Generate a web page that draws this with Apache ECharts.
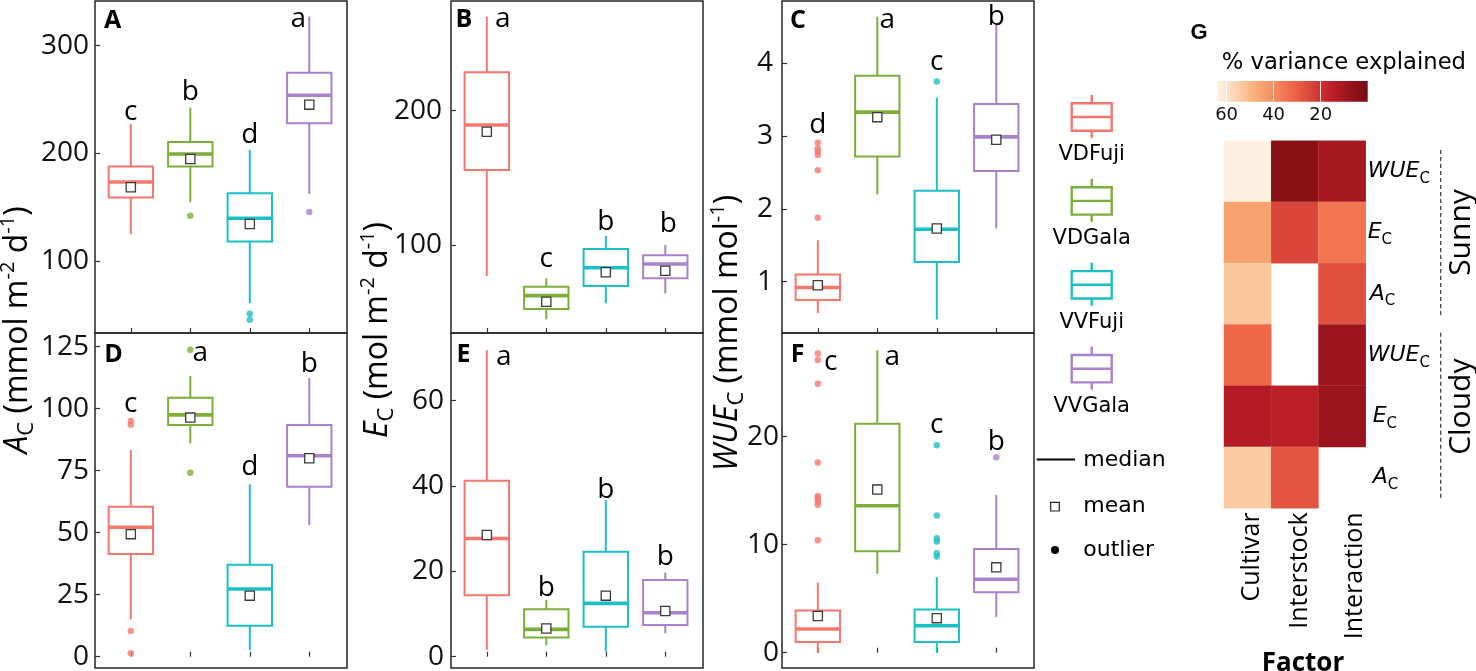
<!DOCTYPE html>
<html>
<head>
<meta charset="utf-8">
<script src="https://cdn.jsdelivr.net/npm/echarts/dist/echarts.min.js"></script>
<style>
html,body{margin:0;padding:0;background:#fff;}
#chart{width:1476px;height:671px;}
</style>
</head>
<body>
<div id="chart"></div>
<script>
// ---------------- DATA ----------------
const groups = ['VDFuji', 'VDGala', 'VVFuji', 'VVGala'];

// box stats: [min, Q1, median, Q3, max]
// Panel A: sunny A_C
const sunnyAcBox = [[124.9,158.9,173.4,187.7,227.3],[154.9,187.7,199.4,210.6,242.4],[60.8,118.0,139.7,163.0,203.2],[162.3,227.9,253.9,274.9,327.0]];
const sunnyAcMean = [168.5,194.8,134.4,245.2];
const sunnyAcOutliers = [[],[141.9],[50.9,45.3],[145.6]];
const sunnyAcLetters = ['c','b','d','a'];
const sunnyAcLetterAt = [231.0,249.6,209.9,317.6];
const sunnyAcTicks = [100,200,300];

// Panel D: cloudy A_C
const cloudyAcBox = [[15.1,41.4,52.2,60.5,83.3],[86.0,93.4,97.5,104.4,113.2],[2.7,12.5,27.3,37.1,69.5],[53.1,68.5,81.0,93.4,112.3]];
const cloudyAcMean = [49.4,96.4,24.6,80.0];
const cloudyAcOutliers = [[95.0,93.5,10.4,1.4],[123.7,74.2],[],[]];
const cloudyAcLetters = ['c','a','d','b'];
const cloudyAcLetterAt = [98.8,119.0,73.3,114.9];
const cloudyAcTicks = [0,25,50,75,100,125];

// Panel B: sunny E_C
const sunnyEcBox = [[76.9,155.8,189.4,228.6,270.0],[44.7,52.3,62.3,69.0,75.2],[56.6,69.5,83.1,97.0,106.7],[64.0,75.2,85.9,92.3,100.0]];
const sunnyEcMean = [184.4,57.8,79.7,80.9];
const sunnyEcOutliers = [[],[],[],[]];
const sunnyEcLetters = ['a','c','b','b'];
const sunnyEcLetterAt = [262.5,83.8,111.2,109.9];
const sunnyEcTicks = [100,200];

// Panel E: cloudy E_C
const cloudyEcBox = [[1.6,14.4,27.7,41.2,71.8],[2.7,4.5,6.4,11.1,13.3],[1.2,7.0,12.5,24.6,36.7],[5.5,7.4,10.3,18.0,19.7]];
const cloudyEcMean = [28.5,6.6,14.3,10.7];
const cloudyEcOutliers = [[],[],[],[]];
const cloudyEcLetters = ['a','b','b','b'];
const cloudyEcLetterAt = [68.4,14.1,37.1,21.5];
const cloudyEcTicks = [0,20,40,60];

// Panel C: sunny WUE_C
const sunnyWueBox = [[0.57,0.75,0.92,1.10,1.57],[2.20,2.72,3.33,3.83,4.64],[0.48,1.27,1.72,2.25,3.53],[1.73,2.52,2.99,3.44,4.53]];
const sunnyWueMean = [0.95,3.26,1.73,2.95];
const sunnyWueOutliers = [[2.91,2.83,2.79,2.74,2.53,1.88],[],[3.75],[]];
const sunnyWueLetters = ['d','a','c','b'];
const sunnyWueLetterAt = [3.04,4.48,3.91,4.53];
const sunnyWueTicks = [1,2,3,4];

// Panel F: cloudy WUE_C
const cloudyWueBox = [[0.0,1.0,2.2,3.9,6.5],[7.3,9.4,13.6,21.2,28.0],[0.0,1.0,2.5,4.0,7.0],[3.3,5.6,6.8,9.6,14.6]];
const cloudyWueMean = [3.4,15.1,3.2,7.9];
const cloudyWueOutliers = [[27.7,27.1,24.9,17.6,14.5,14.3,14.0,13.7,10.4],[],[19.2,12.7,10.6,10.3,9.2,8.9],[18.1]];
const cloudyWueLetters = ['c','a','c','b'];
const cloudyWueLetterAt = [26.2,26.6,20.3,18.8];
const cloudyWueTicks = [0,10,20];

// Panel G: % variance explained
const factors = ['Cultivar', 'Interstock', 'Interaction'];
const heatRows = ['WUE|Sunny', 'E|Sunny', 'A|Sunny', 'WUE|Cloudy', 'E|Cloudy', 'A|Cloudy'];
const varSunnyWue = [63, 4.3, 10.2];
const varSunnyEc = [45, 24.8, 35];
const varSunnyAc = [53, null, 26.5];
const varCloudyWue = [32, null, 8.2];
const varCloudyEc = [13.2, 15, 7.6];
const varCloudyAc = [54, 27.9, null];
const colorbarTicks = [20, 40, 60];

// ---------------- STYLE / LAYOUT ----------------
const COLORS = ['#F6776E', '#7BAF3A', '#1DBFC6', '#A982CB'];
const PALETTE = ['#760A12', '#C0202A', '#EF6848', '#F8B27A', '#FFF6EA'];
const VMAX = 64.2;
const FONT = 'Open Sans';
const FONT2 = 'DejaVu Sans';
const BOX_HALF = 0.373;
const colLabelShift = [8, 10, 26];       // rotated label nudge (local padding)
const rowLabelShift = [0, 0, 2, 0, 5, 5]; // row label left padding

const panels = [
  {tag:'A', box:sunnyAcBox, mean:sunnyAcMean, out:sunnyAcOutliers, letters:sunnyAcLetters, letterAt:sunnyAcLetterAt, ticks:sunnyAcTicks, dx:[0,0,0,-11], yMin:33.1, yMax:341.5, margin:6, rect:{left:95, top:1, width:252, height:332}},
  {tag:'D', box:cloudyAcBox, mean:cloudyAcMean, out:cloudyAcOutliers, letters:cloudyAcLetters, letterAt:cloudyAcLetterAt, ticks:cloudyAcTicks, dx:[0,10,0,0], yMin:-4.56, yMax:130.5, margin:6, rect:{left:95, top:333, width:252, height:335}},
  {tag:'B', box:sunnyEcBox, mean:sunnyEcMean, out:sunnyEcOutliers, letters:sunnyEcLetters, letterAt:sunnyEcLetterAt, ticks:sunnyEcTicks, dx:[16,0,0,3], yMin:34.5, yMax:281.7, margin:9, rect:{left:451, top:1, width:252, height:332}},
  {tag:'E', box:cloudyEcBox, mean:cloudyEcMean, out:cloudyEcOutliers, letters:cloudyEcLetters, letterAt:cloudyEcLetterAt, ticks:cloudyEcTicks, dx:[17,0,0,0], yMin:-2.65, yMax:75.85, margin:7, rect:{left:451, top:333, width:252, height:335}},
  {tag:'C', box:sunnyWueBox, mean:sunnyWueMean, out:sunnyWueOutliers, letters:sunnyWueLetters, letterAt:sunnyWueLetterAt, ticks:sunnyWueTicks, dx:[0,10,0,0], yMin:0.295, yMax:4.856, margin:9, rect:{left:782, top:1, width:252, height:332}},
  {tag:'F', box:cloudyWueBox, mean:cloudyWueMean, out:cloudyWueOutliers, letters:cloudyWueLetters, letterAt:cloudyWueLetterAt, ticks:cloudyWueTicks, dx:[13,15,0,0], yMin:-1.417, yMax:29.6, margin:3, rect:{left:782, top:333, width:252, height:335}}
];

const grids = [], xAxes = [], yAxes = [], series = [];

panels.forEach((p, pi) => {
  grids.push(Object.assign({show:true, borderColor:'#262626', borderWidth:1.5, backgroundColor:'transparent'}, p.rect));
  xAxes.push({
    gridIndex: pi, type:'value', min:0.398, max:4.634,
    axisLine:{show:false}, splitLine:{show:false},
    axisLabel:{show:false},
    axisTick:{show:true, inside:true, length:5, customValues:[1,2,3,4], lineStyle:{color:'#333', width:1.2}}
  });
  yAxes.push({
    gridIndex: pi, type:'value', min:p.yMin, max:p.yMax,
    axisLine:{show:false}, splitLine:{show:false},
    axisLabel:{show:true, customValues:p.ticks, fontFamily:FONT, fontSize:28, color:'#111', margin:p.margin},
    axisTick:{show:true, inside:true, length:5, customValues:p.ticks, lineStyle:{color:'#333', width:1.2}}
  });
  // boxes
  series.push({
    type:'custom', xAxisIndex:pi, yAxisIndex:pi, z:2, silent:true,
    encode:{x:0, y:[1,2,3,4,5,6]},
    data: p.box.map((b, i) => [i + 1, b[0], b[1], b[2], b[3], b[4], p.mean[i], i]),
    renderItem: function (params, api) {
      const x = api.value(0);
      const gi = api.value(7);
      const c = COLORS[gi];
      const pt = k => api.coord([x, api.value(k)]);
      const pMin = pt(1), pQ1 = pt(2), pMed = pt(3), pQ3 = pt(4), pMax = pt(5), pMean = pt(6);
      const half = api.size([BOX_HALF, 0])[0];
      const cx = pMed[0];
      return {type:'group', children:[
        {type:'line', shape:{x1:cx, y1:pMax[1], x2:cx, y2:pQ3[1]}, style:{stroke:c, lineWidth:2}},
        {type:'line', shape:{x1:cx, y1:pQ1[1], x2:cx, y2:pMin[1]}, style:{stroke:c, lineWidth:2}},
        {type:'rect', shape:{x:cx - half, y:pQ3[1], width:2 * half, height:pQ1[1] - pQ3[1]}, style:{fill:'#fff', stroke:c, lineWidth:2}},
        {type:'line', shape:{x1:cx - half, y1:pMed[1], x2:cx + half, y2:pMed[1]}, style:{stroke:c, lineWidth:3.6}},
        {type:'rect', shape:{x:pMean[0] - 4.6, y:pMean[1] - 4.6, width:9.2, height:9.2}, style:{fill:'#fff', stroke:'#3a3a3a', lineWidth:1.3}}
      ]};
    }
  });
  // outliers
  const outData = [];
  p.out.forEach((arr, i) => arr.forEach(v => outData.push({value:[i + 1, v], itemStyle:{color:COLORS[i]}})));
  series.push({
    type:'scatter', xAxisIndex:pi, yAxisIndex:pi, z:3, silent:true,
    symbol:'circle', symbolSize:6.5, data:outData
  });
  // significance letters
  series.push({
    type:'custom', xAxisIndex:pi, yAxisIndex:pi, z:4, silent:true,
    encode:{x:0, y:1},
    data: p.letters.map((l, i) => [i + 1, p.letterAt[i]]),
    renderItem: function (params, api) {
      const i = params.dataIndex;
      const pt = api.coord([api.value(0), api.value(1)]);
      return {type:'text', x:pt[0] + p.dx[i], y:pt[1] - 8,
        style:{text:p.letters[i], fontFamily:FONT, fontSize:28, fill:'#000', align:'center', verticalAlign:'middle'}};
    }
  });
});

// Heatmap grid (index 6)
grids.push({left:1224, top:140.7, width:141.7, height:367.6, show:false});
const colRich = {};
colLabelShift.forEach((s, k) => { colRich['c' + k] = {fontFamily:FONT, fontSize:25, color:'#000', padding:[s, 0, 0, 0]}; });
xAxes.push({
  gridIndex:6, type:'category', data:factors, position:'bottom',
  axisLine:{show:false}, axisTick:{show:false}, splitLine:{show:false},
  axisLabel:{rotate:90, margin:4, fontFamily:FONT, fontSize:25, color:'#000', interval:0,
    formatter:(v, idx) => '{c' + idx + '|' + v + '}', rich:colRich}
});
const rowRich = {s:{fontFamily:FONT2, fontSize:15, lineHeight:20, verticalAlign:'bottom', color:'#000'}};
rowLabelShift.forEach((s, k) => { rowRich['i' + k] = {fontFamily:FONT2, fontStyle:'italic', fontSize:22, lineHeight:30, color:'#000', padding:[0, 0, 0, s]}; });
yAxes.push({
  gridIndex:6, type:'category', data:heatRows, inverse:true, position:'right',
  axisLine:{show:false}, axisTick:{show:false}, splitLine:{show:false},
  axisLabel:{margin:2, interval:0,
    formatter: (v, idx) => '{i' + idx + '|' + v.split('|')[0] + '}{s|C}',
    rich:rowRich}
});
const heatMatrix = [varSunnyWue, varSunnyEc, varSunnyAc, varCloudyWue, varCloudyEc, varCloudyAc];
const heatData = [];
heatMatrix.forEach((row, r) => row.forEach((v, c) => { if (v !== null) heatData.push([c, r, v]); }));
series.push({
  type:'heatmap', xAxisIndex:6, yAxisIndex:6, data:heatData, silent:true,
  itemStyle:{borderColor:'rgba(255,255,255,0.15)', borderWidth:0.6}
});
const heatSeriesIndex = series.length - 1;

// Colorbar grid (index 7)
grids.push({left:1216.7, top:81, width:151, height:20.7, show:false});
xAxes.push({
  gridIndex:7, type:'value', min:0, max:VMAX, inverse:true, z:5,
  axisLine:{show:false}, splitLine:{show:false},
  axisLabel:{customValues:colorbarTicks, margin:5, fontFamily:FONT2, fontSize:18, color:'#111'},
  axisTick:{show:true, inside:true, length:20.7, customValues:colorbarTicks, lineStyle:{color:'rgba(255,255,255,0.85)', width:1}}
});
yAxes.push({gridIndex:7, type:'value', min:0, max:1, show:false});
series.push({
  type:'custom', xAxisIndex:7, yAxisIndex:7, z:1, silent:true,
  data:[[0, 0]],
  renderItem: function (params, api) {
    const cs = params.coordSys;
    const stops = PALETTE.map((col, k) => {
      const v = k * VMAX / (PALETTE.length - 1);
      const px = api.coord([v, 0])[0];
      return {offset:(px - cs.x) / cs.width, color:col};
    }).sort((a, b) => a.offset - b.offset);
    return {type:'rect', shape:{x:cs.x, y:cs.y, width:cs.width, height:cs.height},
      style:{fill:new echarts.graphic.LinearGradient(0, 0, 1, 0, stops)}};
  }
});

// ---------------- GRAPHIC (titles, legend, annotations) ----------------
const graphic = [];
function axisTitle(x, y, main, unit) {
  graphic.push({
    type:'text', x:x, y:y, rotation:Math.PI / 2, silent:true,
    style:{
      text: main + unit, align:'center', verticalAlign:'middle',
      rich:{
        i:{fontFamily:FONT, fontStyle:'italic', fontSize:32, lineHeight:40, fill:'#000'},
        s:{fontFamily:FONT, fontSize:22, lineHeight:24, verticalAlign:'bottom', fill:'#000'},
        n:{fontFamily:FONT, fontSize:32, lineHeight:40, fill:'#000'},
        p:{fontFamily:FONT, fontSize:20, lineHeight:22, verticalAlign:'top', fill:'#000'}
      }
    }
  });
}
axisTitle(18, 330, '{i|A}{s|C}', '{n| (mmol m}{p|-2}{n| d}{p|-1}{n|)}');
axisTitle(378, 330, '{i|E}{s|C}', '{n| (mol m}{p|-2}{n| d}{p|-1}{n|)}');
axisTitle(728, 333, '{i|WUE}{s|C}', '{n| (mmol mol}{p|-1}{n|)}');

// panel tags
const tagPos = {A:[112.5,21], D:[113.5,355], B:[464,20], E:[463.5,355], C:[798,21], F:[797.5,355]};
panels.forEach(p => {
  graphic.push({type:'text', x:tagPos[p.tag][0], y:tagPos[p.tag][1], silent:true,
    style:{text:p.tag, fontFamily:FONT, fontWeight:'bold', fontSize:25, fill:'#000', align:'center', verticalAlign:'middle'}});
});

// legend
groups.forEach((g, i) => {
  const top = 95 + i * 83.9;
  const cx = 1091.7;
  const c = COLORS[i];
  graphic.push({type:'group', silent:true, children:[
    {type:'line', shape:{x1:cx, y1:top, x2:cx, y2:top + 43}, style:{stroke:c, lineWidth:2.4}},
    {type:'rect', shape:{x:cx - 20, y:top + 8.3, width:40, height:27.4}, style:{fill:'#fff', stroke:c, lineWidth:2.4}},
    {type:'line', shape:{x1:cx - 20, y1:top + 22, x2:cx + 20, y2:top + 22}, style:{stroke:c, lineWidth:2.4}},
    {type:'text', x:cx, y:top + 60, style:{text:g, fontFamily:FONT2, fontSize:21, fill:'#000', align:'center', verticalAlign:'middle'}}
  ]});
});
graphic.push({type:'line', silent:true, shape:{x1:1036.7, y1:459.5, x2:1075, y2:459.5}, style:{stroke:'#000', lineWidth:1.8}});
graphic.push({type:'rect', silent:true, shape:{x:1050.7, y:502.4, width:8.6, height:8.6}, style:{fill:'#fff', stroke:'#222', lineWidth:1.2}});
graphic.push({type:'circle', silent:true, shape:{cx:1055, cy:550, r:4}, style:{fill:'#000'}});
[['median', 460], ['mean', 506.7], ['outlier', 550]].forEach(([t, y]) => {
  graphic.push({type:'text', x:1083.3, y:y, silent:true,
    style:{text:t, fontFamily:FONT2, fontSize:22, fill:'#000', align:'left', verticalAlign:'middle'}});
});

// heatmap annotations
graphic.push({type:'text', x:1199, y:32.5, silent:true,
  style:{text:'G', fontFamily:'Liberation Sans', fontWeight:'bold', fontSize:22, fill:'#000', align:'center', verticalAlign:'middle'}});
graphic.push({type:'text', x:1221.7, y:63.3, silent:true,
  style:{text:'% variance explained', fontFamily:FONT2, fontSize:22.7, fill:'#000', align:'left', verticalAlign:'middle'}});
graphic.push({type:'line', silent:true, shape:{x1:1440.7, y1:150, x2:1440.7, y2:316}, style:{stroke:'#333', lineWidth:1.2, lineDash:[4, 3]}});
graphic.push({type:'line', silent:true, shape:{x1:1440.7, y1:332.7, x2:1440.7, y2:499.3}, style:{stroke:'#333', lineWidth:1.2, lineDash:[4, 3]}});
graphic.push({type:'text', x:1461.7, y:232.5, rotation:Math.PI / 2, silent:true,
  style:{text:'Sunny', fontFamily:FONT, fontSize:30, fill:'#000', align:'center', verticalAlign:'middle'}});
graphic.push({type:'text', x:1461.7, y:406.7, rotation:Math.PI / 2, silent:true,
  style:{text:'Cloudy', fontFamily:FONT, fontSize:30, fill:'#000', align:'center', verticalAlign:'middle'}});
graphic.push({type:'text', x:1303, y:664, silent:true,
  style:{text:'Factor', fontFamily:FONT, fontWeight:'bold', fontSize:26, fill:'#000', align:'center', verticalAlign:'middle'}});

const option = {
  backgroundColor:'#fff',
  animation:false,
  textStyle:{fontFamily:FONT},
  grid:grids, xAxis:xAxes, yAxis:yAxes, series:series,
  visualMap:{type:'continuous', show:false, min:0, max:VMAX, dimension:2, seriesIndex:heatSeriesIndex, inRange:{color:PALETTE}},
  graphic:graphic
};
const chart = echarts.init(document.getElementById('chart'), null, {renderer:'canvas'});
chart.setOption(option);
</script>
</body>
</html>
